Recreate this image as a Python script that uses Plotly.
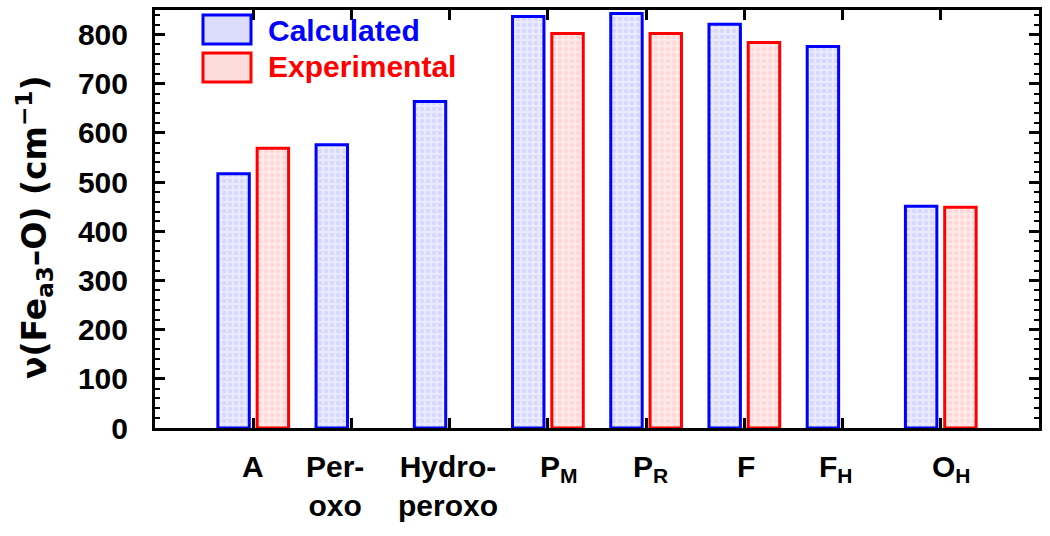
import plotly.graph_objects as go

categories = ["A", "Per-<br>oxo", "Hydro-<br>peroxo", "P<sub>M</sub>", "P<sub>R</sub>",
              "F", "F<sub>H</sub>", "O<sub>H</sub>"]
calculated = [517, 576, 664, 837, 843, 821, 776, 451]
experimental = [569, None, None, 802, 802, 784, None, 449]
y_ticks = [0, 100, 200, 300, 400, 500, 600, 700, 800]

# small horizontal nudges of the category labels, as in the original figure (px)
label_shift = [0, -16, -2, 11, 4, 2, -7, 11]

FONT = "Liberation Sans"
BLUE = "#0000ff"
RED = "#ff0000"

fig = go.Figure()
fig.add_trace(go.Bar(
    x=categories, y=calculated, name="Calculated",
    offset=-0.36, width=0.32,
    marker=dict(color="#dcdcff", line=dict(color=BLUE, width=3),
                pattern=dict(shape=".", bgcolor="#eaeaff", fgcolor="#c4c4ff",
                             size=6, solidity=0.45)),
    showlegend=False,
))
fig.add_trace(go.Bar(
    x=categories, y=experimental, name="Experimental",
    offset=0.04, width=0.32,
    marker=dict(color="#ffdcdc", line=dict(color=RED, width=3),
                pattern=dict(shape=".", bgcolor="#ffeaea", fgcolor="#ffc4c4",
                             size=6, solidity=0.45)),
    showlegend=False,
))

# category labels
for cat, dx in zip(categories, label_shift):
    fig.add_annotation(x=cat, xref="x", yref="paper", y=0, yshift=-20,
                       text=cat, showarrow=False, xanchor="center", yanchor="top",
                       xshift=dx, font=dict(family=FONT, size=30, color="black"))

# manual legend
def px_x(p):
    return (p - 155) / 884

def px_y(p):
    return (428 - p) / 418

fig.add_shape(type="rect", xref="paper", yref="paper",
              x0=px_x(203), x1=px_x(251), y0=px_y(44), y1=px_y(15),
              line=dict(color=BLUE, width=3), fillcolor="#dcdcff")
fig.add_shape(type="rect", xref="paper", yref="paper",
              x0=px_x(203), x1=px_x(251), y0=px_y(82), y1=px_y(53),
              line=dict(color=RED, width=3), fillcolor="#ffdcdc")
fig.add_annotation(xref="paper", yref="paper", x=px_x(266), y=px_y(30),
                   text="<b>Calculated</b>", showarrow=False, xanchor="left",
                   yanchor="middle", font=dict(family=FONT, size=30, color=BLUE))
fig.add_annotation(xref="paper", yref="paper", x=px_x(266), y=px_y(66),
                   text="<b>Experimental</b>", showarrow=False, xanchor="left",
                   yanchor="middle", font=dict(family=FONT, size=30, color=RED))

# y-axis title
fig.add_annotation(xref="paper", yref="paper", x=px_x(35), y=px_y(228),
                   text="ν(Fe<sub>a3</sub>–O) (cm<sup>−1</sup>)", textangle=-90,
                   showarrow=False, xanchor="center", yanchor="middle",
                   font=dict(family="DejaVu Sans", size=33, color="black"))

fig.update_layout(
    width=1050, height=536,
    margin=dict(l=155, r=11, t=10, b=108),
    plot_bgcolor="white", paper_bgcolor="white",
    font=dict(family=FONT, size=30, color="black", weight="bold"),
    barmode="overlay",
)
fig.update_xaxes(
    type="category", range=[-1, 8], automargin=False,
    showline=True, linecolor="black", linewidth=3, mirror="ticks",
    ticks="inside", ticklen=10, tickwidth=3, tickcolor="black",
    showgrid=False, zeroline=False, showticklabels=False,
)
fig.update_yaxes(
    range=[0, 850], tickvals=y_ticks, automargin=False,
    showline=True, linecolor="black", linewidth=3, mirror="ticks",
    ticks="inside", ticklen=10, tickwidth=3, tickcolor="black",
    minor=dict(dtick=20, ticks="inside", ticklen=5, tickwidth=2, tickcolor="black"),
    showgrid=False, zeroline=False,
    tickfont=dict(family=FONT, size=30, weight="bold"),
    ticklabelstandoff=18,
)

fig.write_html(
    "out.html",
    config={"displayModeBar": False},
    post_script="document.body.style.margin='0';document.body.style.overflow='hidden';",
)
